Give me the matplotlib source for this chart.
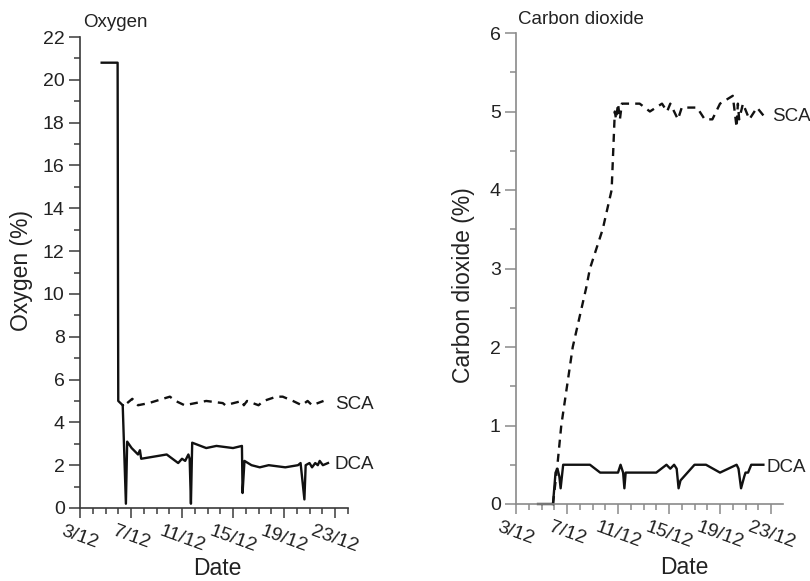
#!/usr/bin/env python3
"""
Oxygen and carbon dioxide in the two storage atmospheres (SCA vs DCA)
over the December run.

Output:
    out.png
"""

import matplotlib
matplotlib.use('Agg')
import matplotlib.pyplot as plt
import matplotlib.ticker as ticker

plt.rcParams['font.family'] = ['Liberation Sans', 'DejaVu Sans']

# ── data (x = day of December) ───────────────────────────────────────────────
DATE_TICKS  = [3, 7, 11, 15, 19, 23]
DATE_LABELS = ['3/12', '7/12', '11/12', '15/12', '19/12', '23/12']

# oxygen: air phase before the rooms were sealed
O2_AIR_DAYS = [4.7, 5.95, 6.0, 6.35]
O2_AIR      = [20.8, 20.8, 5.0, 4.8]

O2_DCA_DAYS = [6.35, 6.6, 6.7, 7.05, 7.55, 7.7, 7.8, 9.8, 10.7, 11.0, 11.25,
               11.5, 11.6, 11.7, 11.8, 12.9, 13.7, 15.0, 15.7, 15.75, 15.9,
               16.45, 17.1, 17.8, 19.1, 20.1, 20.3, 20.6, 20.7, 21.0, 21.2,
               21.45, 21.65, 21.8, 22.05, 22.45]
O2_DCA      = [4.8, 0.2, 3.1, 2.8, 2.5, 2.7, 2.3, 2.5, 2.1, 2.3, 2.2,
               2.5, 2.3, 0.2, 3.05, 2.8, 2.9, 2.8, 2.9, 0.7, 2.2,
               2.0, 1.9, 2.0, 1.9, 2.0, 2.1, 0.4, 2.0, 2.1, 1.9,
               2.1, 2.0, 2.2, 2.0, 2.1]

O2_SCA_DAYS = [6.7, 7.1, 7.55, 8.4, 10.05, 10.5, 11.2, 12.9, 14.2, 14.4, 15.7,
               15.85, 16.1, 17.0, 17.4, 18.4, 18.9, 19.7, 20.4, 20.85, 21.2, 22.1]
O2_SCA      = [4.9, 5.1, 4.8, 4.9, 5.2, 5.0, 4.8, 5.0, 4.9, 4.8, 5.0,
               4.8, 5.0, 4.8, 5.0, 5.2, 5.2, 5.0, 4.8, 5.0, 4.8, 5.0]

# carbon dioxide
CO2_AIR_DAYS = [4.7, 5.9]
CO2_AIR      = [0.0, 0.0]

CO2_DCA_DAYS = [5.9, 6.1, 6.25, 6.4, 6.5, 6.7, 8.8, 9.6, 11.0, 11.2, 11.4,
                11.5, 11.6, 14.0, 14.8, 15.1, 15.4, 15.6, 15.75, 15.9, 17.0,
                17.9, 19.0, 20.3, 20.45, 20.65, 20.9, 21.0, 21.2, 21.45, 22.4]
CO2_DCA      = [0.0, 0.4, 0.45, 0.35, 0.2, 0.5, 0.5, 0.4, 0.4, 0.5, 0.4,
                0.2, 0.4, 0.4, 0.5, 0.45, 0.5, 0.45, 0.2, 0.3, 0.5,
                0.5, 0.4, 0.5, 0.45, 0.2, 0.35, 0.4, 0.4, 0.5, 0.5]

CO2_SCA_DAYS = [5.9, 6.25, 6.55, 7.45, 8.5, 8.8, 9.8, 10.5, 10.7, 10.75, 10.85,
                11.0, 11.15, 11.3, 12.7, 13.5, 14.45, 14.85, 15.1, 15.7, 16.0,
                17.2, 17.8, 18.4, 19.0, 20.0, 20.3, 20.4, 20.5, 20.8, 21.3,
                21.9, 22.4]
CO2_SCA      = [0.0, 0.5, 1.0, 2.0, 2.75, 3.0, 3.5, 4.0, 4.8, 5.0, 4.9,
                5.1, 4.9, 5.1, 5.1, 5.0, 5.1, 5.0, 5.1, 4.9, 5.05,
                5.05, 4.9, 4.9, 5.1, 5.2, 4.8, 5.1, 4.9, 5.1, 4.9,
                5.05, 4.95]

# ── styling ──────────────────────────────────────────────────────────────────
LINE_COLOR = '#111111'
TEXT_COLOR = '#222222'
LW         = 1.7
DASHES     = (3.4, 2.6)
TICK_FS    = 14
NOTE_FS    = 13.5
LABEL_FS   = 16.5
TITLE_FS   = 13.5


def style_axes(ax, axis_color, xmax, ymax, ymajor, yminor):
    for side in ('top', 'right'):
        ax.spines[side].set_visible(False)
    for side in ('left', 'bottom'):
        ax.spines[side].set_color(axis_color)
        ax.spines[side].set_linewidth(1.2)

    ax.set_xlim(3, xmax)
    ax.set_ylim(0, ymax)
    ax.set_xticks(DATE_TICKS)
    ax.set_xticklabels(DATE_LABELS, rotation=-20, ha='center',
                       fontsize=TICK_FS, color=TEXT_COLOR)
    ax.xaxis.set_minor_locator(ticker.MultipleLocator(1))
    ax.yaxis.set_major_locator(ticker.MultipleLocator(ymajor))
    ax.yaxis.set_minor_locator(ticker.MultipleLocator(yminor))
    ax.yaxis.set_major_formatter(ticker.FormatStrFormatter('%g'))

    ax.tick_params(axis='both', which='both', direction='out',
                   color=axis_color, width=1.1)
    ax.tick_params(axis='y', which='major', length=8, pad=3,
                   labelsize=TICK_FS, labelcolor=TEXT_COLOR)
    ax.tick_params(axis='y', which='minor', length=4)
    ax.tick_params(axis='x', which='major', length=7, pad=4)
    ax.tick_params(axis='x', which='minor', length=4)


def main():
    fig = plt.figure(figsize=(8.1, 5.81), dpi=100)
    ax_o2 = fig.add_axes([80 / 810, 1 - 508 / 581, 267.75 / 810, 471 / 581])
    ax_co2 = fig.add_axes([516 / 810, 1 - 504 / 581, 266.5 / 810, 471 / 581])

    # ── oxygen panel ─────────────────────────────────────────────────────────
    ax_o2.plot(O2_AIR_DAYS, O2_AIR, color=LINE_COLOR, lw=LW, clip_on=False)
    ax_o2.plot(O2_DCA_DAYS, O2_DCA, color=LINE_COLOR, lw=LW, clip_on=False)
    ax_o2.plot(O2_SCA_DAYS, O2_SCA, color=LINE_COLOR, lw=LW,
               dashes=DASHES, clip_on=False)
    style_axes(ax_o2, '#3a3a3a', 24, 22, 2, 1)
    ax_o2.text(23.0, 4.85, 'SCA', va='center', ha='left',
               fontsize=NOTE_FS, color=TEXT_COLOR)
    ax_o2.text(23.0, 2.05, 'DCA', va='center', ha='left',
               fontsize=NOTE_FS, color=TEXT_COLOR)
    ax_o2.text(0.012, 1.03, 'Oxygen', transform=ax_o2.transAxes,
               va='center', ha='left', fontsize=TITLE_FS, color=TEXT_COLOR)
    ax_o2.set_ylabel('Oxygen (%)', fontsize=LABEL_FS, color=TEXT_COLOR)
    ax_o2.yaxis.set_label_coords(-0.175, 0.505)
    ax_o2.set_xlabel('Date', fontsize=LABEL_FS, color=TEXT_COLOR)
    ax_o2.xaxis.set_label_coords(0.513, -0.104)

    # ── carbon dioxide panel ─────────────────────────────────────────────────
    ax_co2.plot(CO2_AIR_DAYS, CO2_AIR, color=LINE_COLOR, lw=LW, clip_on=False)
    ax_co2.plot(CO2_DCA_DAYS, CO2_DCA, color=LINE_COLOR, lw=LW, clip_on=False)
    ax_co2.plot(CO2_SCA_DAYS, CO2_SCA, color=LINE_COLOR, lw=LW,
                dashes=DASHES, clip_on=False)
    style_axes(ax_co2, '#8a8a8a', 23.9, 6, 1, 0.5)
    ax_co2.text(23.1, 4.93, 'SCA', va='center', ha='left',
                fontsize=NOTE_FS, color=TEXT_COLOR)
    ax_co2.text(22.65, 0.46, 'DCA', va='center', ha='left',
                fontsize=NOTE_FS, color=TEXT_COLOR)
    ax_co2.text(0.008, 1.028, 'Carbon dioxide', transform=ax_co2.transAxes,
                va='center', ha='left', fontsize=TITLE_FS, color=TEXT_COLOR)
    ax_co2.set_ylabel('Carbon dioxide (%)', fontsize=LABEL_FS, color=TEXT_COLOR)
    ax_co2.yaxis.set_label_coords(-0.154, 0.464)
    ax_co2.set_xlabel('Date', fontsize=LABEL_FS, color=TEXT_COLOR)
    ax_co2.xaxis.set_label_coords(0.633, -0.11)

    fig.savefig('out.png', dpi=100)
    plt.close(fig)


if __name__ == '__main__':
    main()
